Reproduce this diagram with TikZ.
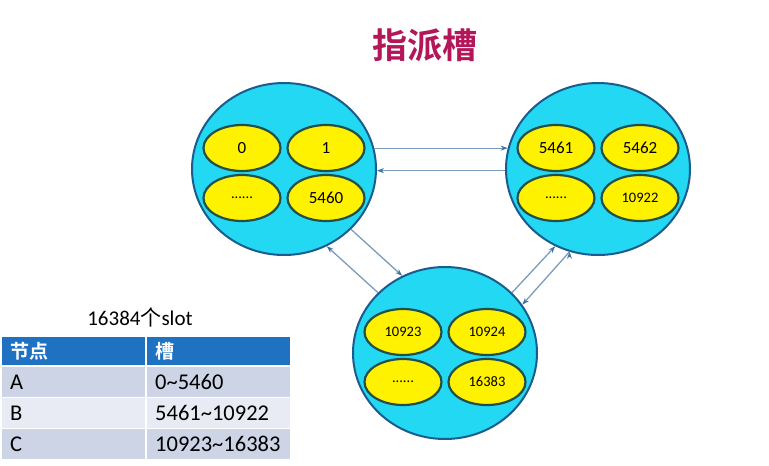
\documentclass[tikz,border=0pt]{standalone}
\usepackage{fontspec}
\setmainfont{Carlito}
\newfontfamily\cjk[BoldFont={Noto Sans CJK SC Bold}]{Noto Sans CJK SC}
\usetikzlibrary{positioning, arrows.meta, shapes.geometric}
\definecolor{groupfill}{HTML}{22D8F2}
\definecolor{groupline}{HTML}{1B5C8E}
\definecolor{slotline}{HTML}{234F4A}
\definecolor{linkline}{HTML}{7C9CBE}
\definecolor{linktip}{HTML}{3F72A8}
\definecolor{headblue}{HTML}{1F72C2}
\definecolor{rowdark}{HTML}{CDD4E6}
\definecolor{rowlight}{HTML}{E8EBF3}
\definecolor{titlered}{HTML}{B3175A}

\begin{document}
\begin{tikzpicture}[x=1pt, y=-1pt, on grid,
  >={Stealth[length=7pt, width=5pt, color=linktip]},
  group/.style={ellipse, draw=groupline, line width=2pt, fill=groupfill,
    minimum width=184pt, minimum height=172pt, inner sep=0pt},
  slot/.style={ellipse, draw=slotline, line width=2.2pt, fill=yellow,
    minimum width=77pt, minimum height=46pt, inner sep=0pt,
    font=\fontsize{17}{20}\selectfont},
  small/.style={font=\fontsize{14.5}{17}\selectfont},
  link/.style={->, draw=linkline, line width=1.3pt},
  cell/.style={anchor=north west, minimum height=30pt, text width=127pt,
    inner xsep=8pt, inner ysep=0pt, align=left,
    font=\fontsize{22.5}{26}\selectfont},
  head/.style={cell, fill=headblue, text=white, minimum height=28pt,
    font=\cjk\bfseries\fontsize{19}{22}\selectfont}]
  \useasboundingbox[fill=white] (0,0) rectangle (769,466);

  % title
  \node[text=titlered, font=\cjk\bfseries\fontsize{35}{40}\selectfont] (title) at (425,45) {指派槽};

  % the three nodes and their slots
  \node[group] (A) at (284,169) {};
  \node[group] (B) at (598,169) {};
  \node[group] (C) at (445,353) {};

  \node[slot] (A1) [above left=21pt and 42pt of A] {0};
  \node[slot] (A2) [above right=21pt and 42pt of A] {1};
  \node[slot, small] (A3) [below left=29pt and 42pt of A] {......};
  \node[slot] (A4) [below right=29pt and 42pt of A] {5460};

  \node[slot] (B1) [above left=21pt and 42pt of B] {5461};
  \node[slot] (B2) [above right=21pt and 42pt of B] {5462};
  \node[slot, small] (B3) [below left=29pt and 42pt of B] {......};
  \node[slot, small] (B4) [below right=29pt and 42pt of B] {10922};

  \node[slot, small] (C1) [above left=21pt and 42pt of C] {10923};
  \node[slot, small] (C2) [above right=21pt and 42pt of C] {10924};
  \node[slot, small] (C3) [below left=29pt and 42pt of C] {......};
  \node[slot, small] (C4) [below right=29pt and 42pt of C] {16383};

  \path[link] (A.13)  edge (B.167)
              (B.181) edge (A.-1)
              (A.-42) edge (C.119)
              (C.138) edge (A.-61)
              (C.42)  edge (B.241)
              (B.251) edge (C.32);

  % slot table
  \node[font=\fontsize{21}{24}\selectfont] (total) at (140,317) {16384{\cjk 个}slot};
  \node[head] (th1) at (2,337) {节点};
  \node[head] (th2) at (147,337) {槽};
  \node[cell, fill=rowdark]  (tA) at (2,367)   {A};
  \node[cell, fill=rowdark]  (rA) at (147,367) {0\textasciitilde 5460};
  \node[cell, fill=rowlight] (tB) at (2,398)   {B};
  \node[cell, fill=rowlight] (rB) at (147,398) {5461\textasciitilde 10922};
  \node[cell, fill=rowdark]  (tC) at (2,429)   {C};
  \node[cell, fill=rowdark]  (rC) at (147,429) {10923\textasciitilde 16383};
\end{tikzpicture}
\end{document}
